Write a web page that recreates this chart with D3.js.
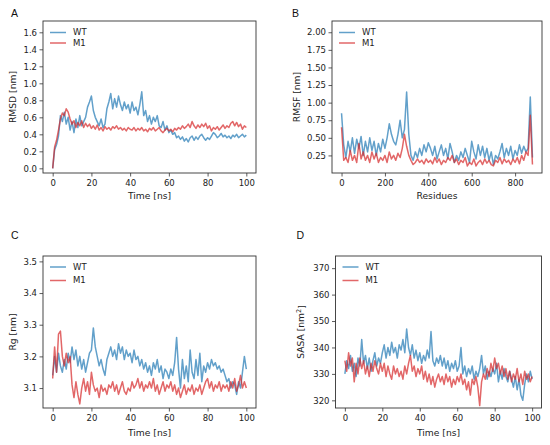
<!DOCTYPE html>
<html>
<head>
<meta charset="utf-8">
<script src="https://cdn.jsdelivr.net/npm/d3@7"></script>
<style>
  body { margin: 0; background: #fff; }
  svg { display: block; }
</style>
</head>
<body>
<div id="chart"></div>
<script>
// time axis (ns) shared by panels A, C, D
const time = d3.range(0, 101);
// residue index for panel B
const residues = d3.range(0, 881, 10);

const seriesNames = ["WT", "M1"];

// A: RMSD [nm]
const rmsdWT = [
  0.00, 0.22, 0.28, 0.38, 0.62, 0.55, 0.66, 0.52, 0.60, 0.45,
  0.55, 0.42, 0.58, 0.48, 0.62, 0.50, 0.55, 0.60, 0.72, 0.78,
  0.85, 0.68, 0.60, 0.55, 0.50, 0.58, 0.48, 0.52, 0.70, 0.78,
  0.88, 0.70, 0.82, 0.72, 0.85, 0.75, 0.68, 0.78, 0.70, 0.75,
  0.65, 0.78, 0.68, 0.72, 0.63, 0.75, 0.90, 0.62, 0.68, 0.55,
  0.62, 0.52, 0.60, 0.55, 0.62, 0.50, 0.48, 0.55, 0.45, 0.50,
  0.42, 0.45, 0.40, 0.42, 0.36, 0.38, 0.34, 0.37, 0.32, 0.35,
  0.31, 0.36, 0.38, 0.33, 0.37, 0.34, 0.38, 0.40, 0.36, 0.33,
  0.36, 0.34, 0.38, 0.42, 0.40, 0.36, 0.38, 0.41, 0.37, 0.39,
  0.36, 0.38, 0.35, 0.39, 0.37, 0.40, 0.36, 0.38, 0.40, 0.37,
  0.39
];
const rmsdM1 = [
  0.00, 0.25, 0.33, 0.45, 0.58, 0.65, 0.62, 0.70, 0.66, 0.58,
  0.52, 0.56, 0.48, 0.54, 0.50, 0.56, 0.48, 0.53, 0.49, 0.52,
  0.47, 0.50, 0.46, 0.51, 0.45, 0.48, 0.44, 0.49, 0.46, 0.48,
  0.45, 0.49, 0.47, 0.50, 0.46, 0.48, 0.45, 0.47, 0.44, 0.48,
  0.46, 0.45, 0.48, 0.44, 0.47, 0.45, 0.48, 0.44, 0.46, 0.43,
  0.47, 0.45, 0.48, 0.44, 0.46, 0.48, 0.44, 0.42, 0.45, 0.47,
  0.44, 0.46, 0.43, 0.47, 0.45, 0.48, 0.46, 0.50, 0.47, 0.49,
  0.52, 0.48, 0.55, 0.50, 0.47, 0.51, 0.48, 0.52, 0.49, 0.53,
  0.47, 0.50, 0.44, 0.48, 0.46, 0.49, 0.45, 0.48, 0.51, 0.47,
  0.50, 0.48, 0.53, 0.55, 0.50, 0.54, 0.49, 0.52, 0.46, 0.50,
  0.48
];

// B: RMSF [nm] per residue
const rmsfWT = [
  0.85, 0.40, 0.22, 0.45, 0.30, 0.50, 0.28, 0.48, 0.35, 0.52,
  0.25, 0.45, 0.30, 0.50, 0.32, 0.45, 0.25, 0.42, 0.30, 0.48,
  0.35, 0.50, 0.70, 0.55, 0.45, 0.40, 0.55, 0.75, 0.50, 0.62,
  1.15, 0.55, 0.25, 0.18, 0.30, 0.22, 0.35, 0.25, 0.40, 0.30,
  0.43, 0.35, 0.25, 0.38, 0.20, 0.30, 0.40, 0.25, 0.35, 0.20,
  0.42, 0.30, 0.15, 0.25, 0.18, 0.30, 0.22, 0.35, 0.25, 0.15,
  0.45, 0.30, 0.20, 0.40, 0.25, 0.38, 0.22, 0.35, 0.18, 0.30,
  0.12, 0.25, 0.20, 0.30, 0.42, 0.22, 0.35, 0.25, 0.38, 0.20,
  0.32, 0.25, 0.40, 0.28, 0.38, 0.30, 0.35, 1.08, 0.22
];
const rmsfM1 = [
  0.65, 0.18, 0.22, 0.15, 0.32, 0.18, 0.25, 0.15, 0.42, 0.20,
  0.30, 0.18, 0.25, 0.15, 0.30, 0.20, 0.28, 0.15, 0.22, 0.18,
  0.25, 0.15, 0.30, 0.20, 0.25, 0.18, 0.28, 0.22, 0.35, 0.55,
  0.38, 0.25, 0.18, 0.12, 0.15, 0.20, 0.15, 0.18, 0.13, 0.20,
  0.15, 0.18, 0.13, 0.22, 0.15, 0.20, 0.12, 0.18, 0.15, 0.22,
  0.18, 0.25, 0.15, 0.20, 0.12, 0.18, 0.15, 0.22, 0.10, 0.15,
  0.12, 0.20, 0.10, 0.15, 0.18, 0.12, 0.20, 0.14, 0.18, 0.12,
  0.10, 0.18, 0.15, 0.22, 0.13, 0.20, 0.15, 0.18, 0.12, 0.20,
  0.15, 0.22, 0.13, 0.25, 0.18, 0.30, 0.25, 0.82, 0.12
];

// C: Rg [nm]
const rgWT = [
  3.14, 3.20, 3.15, 3.21, 3.17, 3.15, 3.19, 3.16, 3.21, 3.18,
  3.23, 3.19, 3.22, 3.17, 3.20, 3.16, 3.19, 3.15, 3.18, 3.21,
  3.22, 3.29, 3.23, 3.20, 3.17, 3.19, 3.16, 3.14, 3.19, 3.21,
  3.23, 3.20, 3.22, 3.19, 3.24, 3.21, 3.23, 3.19, 3.22, 3.20,
  3.21, 3.18, 3.22, 3.19, 3.20, 3.17, 3.19, 3.16, 3.18, 3.15,
  3.17, 3.14, 3.18, 3.16, 3.19, 3.15, 3.17, 3.13, 3.16, 3.15,
  3.13, 3.16, 3.14, 3.18, 3.26, 3.16, 3.10, 3.19, 3.13, 3.17,
  3.12, 3.22, 3.15, 3.13, 3.19, 3.14, 3.21, 3.12, 3.17, 3.15,
  3.18, 3.16, 3.19, 3.17, 3.18, 3.16, 3.17, 3.15, 3.16, 3.14,
  3.12, 3.13, 3.10, 3.12, 3.11, 3.08, 3.12, 3.10, 3.15, 3.20,
  3.16
];
const rgM1 = [
  3.13, 3.23, 3.15, 3.27, 3.28, 3.20, 3.17, 3.21, 3.18, 3.20,
  3.11, 3.07, 3.12, 3.08, 3.05, 3.10, 3.13, 3.09, 3.12, 3.08,
  3.15, 3.11, 3.09, 3.10, 3.07, 3.11, 3.09, 3.10, 3.08, 3.11,
  3.10, 3.12, 3.09, 3.11, 3.08, 3.10, 3.12, 3.09, 3.08, 3.10,
  3.09, 3.12, 3.10, 3.11, 3.13, 3.10, 3.12, 3.09, 3.11, 3.10,
  3.12, 3.10, 3.13, 3.09, 3.11, 3.08, 3.10, 3.12, 3.09, 3.11,
  3.10, 3.12, 3.09, 3.11, 3.08, 3.10, 3.07, 3.09, 3.11, 3.08,
  3.10, 3.09, 3.11, 3.08, 3.10, 3.09, 3.11, 3.08, 3.10, 3.12,
  3.13, 3.10, 3.12, 3.09, 3.11, 3.10, 3.12, 3.09, 3.11, 3.10,
  3.11, 3.09, 3.12, 3.10, 3.13, 3.09, 3.11, 3.14, 3.10, 3.12,
  3.10
];

// D: SASA [nm^2]
const sasaWT = [
  330, 335, 332, 337, 331, 334, 329, 336, 333, 343,
  334, 337, 332, 336, 331, 335, 338, 333, 336, 334,
  338, 341, 336, 340, 337, 342, 338, 340, 336, 341,
  339, 343, 338, 347, 340, 337, 341, 336, 339, 335,
  338, 334, 337, 335, 339, 336, 346, 335, 333, 336,
  334, 337, 333, 336, 332, 335, 331, 334, 332, 335,
  331, 333, 340, 330, 333, 329, 332, 330, 333, 328,
  331, 329, 332, 337, 330, 333, 328, 331, 329, 332,
  330, 334, 327, 331, 328, 332, 329, 327, 331, 328,
  325, 329, 324, 328, 322, 320, 326, 330, 327, 331,
  328
];
const sasaM1 = [
  335, 331, 338, 333, 336, 327, 334, 330, 336, 332,
  335, 330, 333, 329, 334, 331, 335, 332, 330, 334,
  331, 334, 329, 333, 330, 328, 333, 330, 332, 329,
  331, 328, 333, 330, 334, 337, 331, 333, 329, 332,
  330, 333, 328, 331, 327, 330, 326, 329, 325, 328,
  330, 327, 329, 326, 330, 327, 329, 325, 328, 326,
  329, 327, 330, 326, 328, 324, 327, 322, 328, 326,
  329, 325, 318, 327, 330, 328, 332, 329, 334, 331,
  336, 332, 334, 330, 333, 329, 332, 328, 331, 327,
  330, 328, 332, 327, 330, 326, 331, 328, 330, 327,
  329
];

// tick labels
const timeTicks = [0, 20, 40, 60, 80, 100];
const residueTicks = [0, 200, 400, 600, 800];
const rmsdTicks = [0.0, 0.2, 0.4, 0.6, 0.8, 1.0, 1.2, 1.4, 1.6];
const rmsfTicks = [0.25, 0.50, 0.75, 1.00, 1.25, 1.50, 1.75, 2.00];
const rgTicks = [3.1, 3.2, 3.3, 3.4, 3.5];
const sasaTicks = [320, 330, 340, 350, 360, 370];

const colors = {WT: "#1f77b4", M1: "#d62728"};

const W = 550, H = 445;
const svg = d3.select("#chart").append("svg").attr("width", W).attr("height", H);

function drawPanel(p) {
    let g = svg.append("g");
    let x = d3.scaleLinear().domain(p.xDomain).range([p.left, p.right]);
    let y = d3.scaleLinear().domain(p.yDomain).range([p.bottom, p.top]);

    // series
    let line = d3.line().x(d => x(d[0])).y(d => y(d[1]));
    p.series.forEach((s, k) => {
        g.append("path")
            .datum(d3.zip(p.xs, s))
            .attr("d", line)
            .attr("fill", "none")
            .attr("stroke", colors[seriesNames[k]])
            .attr("stroke-opacity", 0.7)
            .attr("stroke-width", 1.5)
            .attr("stroke-linejoin", "round");
    });

    // axes
    let xAxis = g.append("g")
        .attr("transform", "translate(0," + p.bottom + ")")
        .call(d3.axisBottom(x).tickValues(p.xTicks).tickSize(3.5).tickPadding(3).tickFormat(d3.format("d")));
    let yAxis = g.append("g")
        .attr("transform", "translate(" + p.left + ",0)")
        .call(d3.axisLeft(y).tickValues(p.yTicks).tickSize(3.5).tickPadding(2.5).tickFormat(d3.format(p.yFormat)));
    [xAxis, yAxis].forEach(a => {
        a.select(".domain").remove();
        a.selectAll("line").attr("stroke", "#333").attr("stroke-width", 0.8);
        a.selectAll("text")
            .attr("fill", "#222")
            .attr("font-family", "DejaVu Sans")
            .attr("font-size", "8.5px");
    });

    // frame
    g.append("rect")
        .attr("x", p.left).attr("y", p.top)
        .attr("width", p.right - p.left).attr("height", p.bottom - p.top)
        .attr("fill", "none").attr("stroke", "#333").attr("stroke-width", 0.9);

    // axis labels
    g.append("text")
        .attr("x", (p.left + p.right) / 2)
        .attr("y", p.xLabelY)
        .attr("text-anchor", "middle")
        .attr("font-family", "DejaVu Sans").attr("font-size", "9.2px").attr("fill", "#222")
        .text(p.xLabel);
    let yl = g.append("text")
        .attr("transform", "translate(" + p.yLabelX + "," + (p.top + p.bottom) / 2 + ") rotate(-90)")
        .attr("text-anchor", "middle")
        .attr("font-family", "DejaVu Sans").attr("font-size", "9.2px").attr("fill", "#222");
    if (p.yLabelSup) {
        yl.append("tspan").text(p.yLabel);
        yl.append("tspan").attr("dy", "-0.4em").attr("font-size", "6.5px").text(p.yLabelSup);
        yl.append("tspan").attr("dy", "0.4em").text("]");
    } else {
        yl.text(p.yLabel);
    }

    // panel letter
    g.append("text")
        .attr("x", p.letterX).attr("y", p.letterY)
        .attr("font-family", "Liberation Sans").attr("font-size", "10.5px").attr("fill", "#111")
        .text(p.letter);

    // legend
    seriesNames.forEach((name, k) => {
        let ly = p.top + p.legendDy[k];
        g.append("line")
            .attr("x1", p.left + 7).attr("x2", p.left + 23)
            .attr("y1", ly).attr("y2", ly)
            .attr("stroke", colors[name]).attr("stroke-opacity", 0.7).attr("stroke-width", 1.5);
        g.append("text")
            .attr("x", p.left + 30).attr("y", ly).attr("dy", "0.35em")
            .attr("font-family", "DejaVu Sans").attr("font-size", "8.5px").attr("fill", "#222")
            .text(name);
    });
}

drawPanel({
    letter: "A", letterX: 11, letterY: 17,
    left: 43, right: 256, top: 21, bottom: 173,
    xDomain: [-5, 105], yDomain: [-0.055, 1.733],
    xs: time, series: [rmsdWT, rmsdM1],
    xTicks: timeTicks, yTicks: rmsdTicks, yFormat: ".1f",
    xLabel: "Time [ns]", xLabelY: 199, yLabel: "RMSD [nm]", yLabelX: 15.5,
    legendDy: [11.5, 22]
});
drawPanel({
    letter: "B", letterX: 292, letterY: 17,
    left: 332, right: 542, top: 21, bottom: 173,
    xDomain: [-44, 924], yDomain: [0.0, 2.16],
    xs: residues, series: [rmsfWT, rmsfM1],
    xTicks: residueTicks, yTicks: rmsfTicks, yFormat: ".2f",
    xLabel: "Residues", xLabelY: 199, yLabel: "RMSF [nm]", yLabelX: 300,
    legendDy: [11.5, 22]
});
drawPanel({
    letter: "C", letterX: 11, letterY: 239,
    left: 43, right: 256, top: 256, bottom: 408,
    xDomain: [-5, 105], yDomain: [3.037, 3.517],
    xs: time, series: [rgWT, rgM1],
    xTicks: timeTicks, yTicks: rgTicks, yFormat: ".1f",
    xLabel: "Time [ns]", xLabelY: 436, yLabel: "Rg [nm]", yLabelX: 15.5,
    legendDy: [11, 24.5]
});
drawPanel({
    letter: "D", letterX: 296.5, letterY: 239,
    left: 335.5, right: 541.5, top: 256, bottom: 408,
    xDomain: [-5, 105], yDomain: [317.1, 374.6],
    xs: time, series: [sasaWT, sasaM1],
    xTicks: timeTicks, yTicks: sasaTicks, yFormat: "d",
    xLabel: "Time [ns]", xLabelY: 436, yLabel: "SASA [nm", yLabelSup: "2", yLabelX: 304,
    legendDy: [11, 24.5]
});
</script>
</body>
</html>
